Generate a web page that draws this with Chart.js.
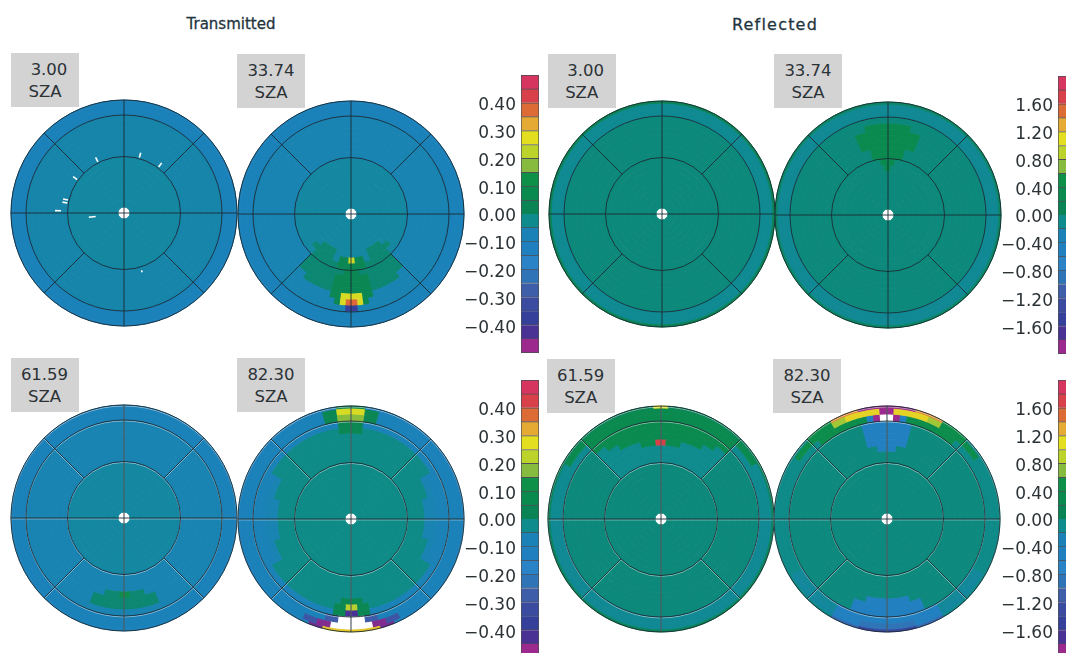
<!DOCTYPE html>
<html>
<head>
<meta charset="utf-8">
<title>Transmitted and Reflected</title>
<script src="https://cdn.jsdelivr.net/npm/chart.js@4"></script>
<style>
html, body { margin: 0; background: #fff; width: 1066px; height: 653px; overflow: hidden; }
body { position: relative; font-family: "DejaVu Sans", sans-serif; color: #2b3236; }
canvas { position: absolute; }
canvas.map { filter: blur(0.5px); }
.title { position: absolute; top: 15px; width: 200px; text-align: center; font-size: 15px; color: #1f3540; -webkit-text-stroke: 0.3px #1f3540; }
.box { position: absolute; width: 68px; height: 54px; background: #d3d3d3; text-align: center; font-size: 16.5px; line-height: 22px; padding-top: 6px; box-sizing: border-box; }
.shift { margin-left: 8px; }
</style>
</head>
<body>
<script>
// values per map: outer ring first, each ring split in equal cells clockwise from the top
// transmitted in hundredths, colour step 0.05
const t03 = [[-10],[-9],[-9],[-6],[-6],[-6],[-6],[-6],[-6],[-6],[-5],[-5],[-5],[-5],[-5],[-5],[-5],[-5]];
const t34 = [[-10],[-9],[-9],
[-7,-7,-7,-7,-7,-7,-7,-7,-7,-7,-7,-7,-7,-7,-7,-7,-7,-7,-7,-7,-7,-7,-7,-7,
 -7,-7,-7,-7,-7,-7,-7,-7,-7,-7,-7,-7,-7,-7,-7,-7,-7,-7,-7,-7,-7,-7,-7,-38,
 -38,-7,-7,-7,-7,-7,-7,-7,-7,-7,-7,-7,-7,-7,-7,-7,-7,-7,-7,-7,-7,-7,-7,-7,
 -7,-7,-7,-7,-7,-7,-7,-7,-7,-7,-7,-7,-7,-7,-7,-7,-7,-7,-7,-7,-7,-7,-7,-7],
[-7,-7,-7,-7,-7,-7,-7,-7,-7,-7,-7,-7,-7,-7,-7,-7,-7,-7,-7,-7,-7,-7,-7,-7,
 -7,-7,-7,-7,-7,-7,-7,-7,-7,-7,-7,-7,-7,-7,-7,-7,-7,-7,-7,-7,-7,5,26,38,
 38,26,5,-7,-7,-7,-7,-7,-7,-7,-7,-7,-7,-7,-7,-7,-7,-7,-7,-7,-7,-7,-7,-7,
 -7,-7,-7,-7,-7,-7,-7,-7,-7,-7,-7,-7,-7,-7,-7,-7,-7,-7,-7,-7,-7,-7,-7,-7],
[-7,-7,-7,-7,-7,-7,-7,-7,-7,-7,-7,-7, -7,-7,-7,-7,-7,-7,-7,-7,-7,-7,5,26, 26,5,-7,-7,-7,-7,-7,-7,-7,-7,-7,-7, -7,-7,-7,-7,-7,-7,-7,-7,-7,-7,-7,-7],
[-7,-7,-7,-7,-7,-7,-7,-7,-7,-7,-7,-7, -7,-7,-7,-7,-7,-7,-7,0,0,0,5,5, 5,5,0,0,0,-7,-7,-7,-7,-7,-7,-7, -7,-7,-7,-7,-7,-7,-7,-7,-7,-7,-7,-7],
[-7,-7,-7,-7,-7,-7,-7,-7,-7,-7,-7,-7, -7,-7,-7,-7,-7,-7,0,0,0,0,5,5, 5,5,0,0,0,0,-7,-7,-7,-7,-7,-7, -7,-7,-7,-7,-7,-7,-7,-7,-7,-7,-7,-7],
[-7,-7,-7,-7,-7,-7,-7,-7,-7,-7,-7,-7, -7,-7,-7,-7,-7,-7,0,0,0,0,5,5, 5,5,0,0,0,0,-7,-7,-7,-7,-7,-7, -7,-7,-7,-7,-7,-7,-7,-7,-7,-7,-7,-7],
[-7,-7,-7,-7,-7,-7,-7,-7,-7,-7,-7,-7, -7,-7,-7,-7,-7,-7,0,0,0,0,0,5, 5,0,0,0,0,0,-7,-7,-7,-7,-7,-7, -7,-7,-7,-7,-7,-7,-7,-7,-7,-7,-7,-7],
[-5,-5,-5,-5,-5,-5,-5,-5,-5,-5,-5,-5, -5,-5,-5,-5,-5,-5,0,0,0,0,5,5, 5,5,0,0,0,0,-5,-5,-5,-5,-5,-5, -5,-5,-5,-5,-5,-5,-5,-5,-5,-5,-5,-5],
[-5,-5,-5,-5,-5,-5,-5,-5,-5,-5,-5,-5,-5,-5,-5,-5,-5,-5,-5,-5,-5,-5,-5,-5,
 -5,-5,-5,-5,-5,-5,-5,-5,-5,-5,0,0,0,0,0,0,0,0,-5,-5,5,5,5,24,
 24,5,5,5,-5,-5,0,0,0,0,0,0,0,0,-5,-5,-5,-5,-5,-5,-5,-5,-5,-5,
 -5,-5,-5,-5,-5,-5,-5,-5,-5,-5,-5,-5,-5,-5,-5,-5,-5,-5,-5,-5,-5,-5,-5,-5],
[-5,-5,-5,-5,-5,-5,-5,-5,-5,-5,-5,-5, -5,-5,-5,-5,-5,-5,0,0,0,-5,-5,-5, -5,-5,-5,0,0,0,-5,-5,-5,-5,-5,-5, -5,-5,-5,-5,-5,-5,-5,-5,-5,-5,-5,-5],
[-5],[-5],[-5],[-5],[-5]];
const t62 = [[-10],[-9],[-9],[-7],
[-7,-7,-7,-7,-7,-7,-7,-7,-7,-7,-7,-7, -7,-7,-7,-7,-7,-7,-7,-7,-7,0,0,0, 0,0,0,-7,-7,-7,-7,-7,-7,-7,-7,-7, -7,-7,-7,-7,-7,-7,-7,-7,-7,-7,-7,-7],
[-7,-7,-7,-7,-7,-7,-7,-7,-7,-7,-7,-7, -7,-7,-7,-7,-7,-7,-7,-7,-7,0,0,0, 0,0,0,-7,-7,-7,-7,-7,-7,-7,-7,-7, -7,-7,-7,-7,-7,-7,-7,-7,-7,-7,-7,-7],
[-7,-7,-7,-7,-7,-7,-7,-7,-7,-7,-7,-7,-7,-7,-7,-7,-7,-7,-7,-7,-7,-7,-7,-7,
 -7,-7,-7,-7,-7,-7,-7,-7,-7,-7,-7,-7,-7,-7,-7,-7,-7,-7,-7,-7,0,0,0,11,
 11,0,0,0,-7,-7,-7,-7,-7,-7,-7,-7,-7,-7,-7,-7,-7,-7,-7,-7,-7,-7,-7,-7,
 -7,-7,-7,-7,-7,-7,-7,-7,-7,-7,-7,-7,-7,-7,-7,-7,-7,-7,-7,-7,-7,-7,-7,-7],
[-7],[-7],[-7],[-5],[-5],[-5],[-5],[-5],[-5],[-5],[-5]];
const t82 = [
[6,-11,-11,-11,-11,-11,-11,-11,-11,-11,-11,-11, -11,-11,-11,-11,-11,-11,-11,-11,-11,-45,30,30, 30,30,-45,-11,-11,-11,-11,-11,-11,-11,-11,-11, -11,-11,-11,-11,-11,-11,-11,-11,-11,-11,-11,6],
[26,26,5,5,-9,-9,-9,-9,-9,-9,-9,-9,-9,-9,-9,-9,-9,-9,-9,-9,-9,-9,-9,-9,
 -9,-9,-9,-9,-9,-9,-9,-9,-9,-9,-9,-9,-9,-9,-9,-9,-9,-30,-30,-46,-46,null,null,null,
 null,null,null,-46,-46,-30,-30,-9,-9,-9,-9,-9,-9,-9,-9,-9,-9,-9,-9,-9,-9,-9,-9,-9,
 -9,-9,-9,-9,-9,-9,-9,-9,-9,-9,-9,-9,-9,-9,-9,-9,-9,-9,-9,-9,5,5,26,26],
[18,18,5,5,-9,-9,-9,-9,-9,-9,-9,-9,-9,-9,-9,-9,-9,-9,-9,-9,-9,-9,-9,-9,
 -9,-9,-9,-9,-9,-9,-9,-9,-9,-9,-9,-9,-9,-9,-9,-9,-9,-9,-9,-9,-28,-28,null,null,
 null,null,-28,-28,-9,-9,-9,-9,-9,-9,-9,-9,-9,-9,-9,-9,-9,-9,-9,-9,-9,-9,-9,-9,
 -9,-9,-9,-9,-9,-9,-9,-9,-9,-9,-9,-9,-9,-9,-9,-9,-9,-9,-9,-9,5,5,18,18],
[5,5,-8,-8,-8,-8,-8,-8,-8,-8,-8,-8,-8,-8,-8,-8,-8,-8,-8,-8,-8,-8,-8,-8,
 -8,-8,-8,-8,-8,-8,-8,-8,-8,-8,-8,-8,-8,-8,-8,-8,-8,-8,-8,-8,-8,5,5,-42,
 -42,5,5,-8,-8,-8,-8,-8,-8,-8,-8,-8,-8,-8,-8,-8,-8,-8,-8,-8,-8,-8,-8,-8,
 -8,-8,-8,-8,-8,-8,-8,-8,-8,-8,-8,-8,-8,-8,-8,-8,-8,-8,-8,-8,-8,-8,5,5],
[5,5,-2,-2,-2,-2,-2,-2,-2,-2,-2,-2,-2,-2,-2,-2,-8,-8,-8,-8,-8,-8,-8,-8,
 -8,-8,-8,-8,-8,-8,-8,-8,-2,-2,-2,-2,-2,-2,-2,-2,-2,-2,-2,-2,-2,5,5,22,
 22,5,5,-2,-2,-2,-2,-2,-2,-2,-2,-2,-2,-2,-2,-2,-8,-8,-8,-8,-8,-8,-8,-8,
 -8,-8,-8,-8,-8,-8,-8,-8,-2,-2,-2,-2,-2,-2,-2,-2,-2,-2,-2,-2,-2,-2,5,5],
[-2,-2,-2,-2,-2,-2,-2,-2,-7,-7,-7,-7, -7,-7,-7,-7,-2,-2,-2,-2,-2,-2,-2,5, 5,-2,-2,-2,-2,-2,-2,-2,-7,-7,-7,-7, -7,-7,-7,-7,-2,-2,-2,-2,-2,-2,-2,-2],
[-2,-2,-2,-2,-2,-7,-7,-2,-2,-2,-2,-2,-2,-2,-2,-2,-2,-7,-7,-2,-2,-2,-2,-2],
[-2],[-2],[-2],[-2],[-2],[-2],[-2],[-2],[-2],[-2],[-2]];

// reflected in hundredths, colour step 0.20
const r03 = [[10],[-13],[-13],[-4],[-4],[-4],[-4],[-4],[-4],[-4],[-4],[-4],[-4],[-4],[-4],[-4],[-4],[-4]];
const r34 = [[5],[-14],[-14],[-4],
[30,30,-4,-4,-4,-4,-4,-4,-4,-4,-4,-4,-4,-4,-4,-4,-4,-4,-4,-4,-4,-4,-4,-4,-4,-4,-4,-4,-4,-4,-4,-4,-4,-4,-4,-4,-4,-4,-4,-4,-4,-4,-4,-4,-4,-4,30,30],
[30,30,30,-4,-4,-4,-4,-4,-4,-4,-4,-4,-4,-4,-4,-4,-4,-4,-4,-4,-4,-4,-4,-4,-4,-4,-4,-4,-4,-4,-4,-4,-4,-4,-4,-4,-4,-4,-4,-4,-4,-4,-4,-4,-4,30,30,30],
[30,30,30,-4,-4,-4,-4,-4,-4,-4,-4,-4,-4,-4,-4,-4,-4,-4,-4,-4,-4,-4,-4,-4,-4,-4,-4,-4,-4,-4,-4,-4,-4,-4,-4,-4,-4,-4,-4,-4,-4,-4,-4,-4,-4,30,30,30],
[30,30,30,-4,-4,-4,-4,-4,-4,-4,-4,-4,-4,-4,-4,-4,-4,-4,-4,-4,-4,-4,-4,-4,-4,-4,-4,-4,-4,-4,-4,-4,-4,-4,-4,-4,-4,-4,-4,-4,-4,-4,-4,-4,-4,30,30,30],
[30,30,-4,-4,-4,-4,-4,-4,-4,-4,-4,-4,-4,-4,-4,-4,-4,-4,-4,-4,-4,-4,-4,-4,-4,-4,-4,-4,-4,-4,-4,-4,-4,-4,-4,-4,-4,-4,-4,-4,-4,-4,-4,-4,-4,-4,30,30],
[30,30,-4,-4,-4,-4,-4,-4,-4,-4,-4,-4,-4,-4,-4,-4,-4,-4,-4,-4,-4,-4,-4,-4,-4,-4,-4,-4,-4,-4,-4,-4,-4,-4,-4,-4,-4,-4,-4,-4,-4,-4,-4,-4,-4,-4,30,30],
[30,-4,-4,-4,-4,-4,-4,-4,-4,-4,-4,-4,-4,-4,-4,-4,-4,-4,-4,-4,-4,-4,-4,-4,-4,-4,-4,-4,-4,-4,-4,-4,-4,-4,-4,-4,-4,-4,-4,-4,-4,-4,-4,-4,-4,-4,-4,30],
[30,-4,-4,-4,-4,-4,-4,-4,-4,-4,-4,-4,-4,-4,-4,-4,-4,-4,-4,-4,-4,-4,-4,-4,-4,-4,-4,-4,-4,-4,-4,-4,-4,-4,-4,-4,-4,-4,-4,-4,-4,-4,-4,-4,-4,-4,-4,-4,
 -4,-4,-4,-4,-4,-4,-4,-4,-4,-4,-4,-4,-4,-4,-4,-4,-4,-4,-4,-4,-4,-4,-4,-4,-4,-4,-4,-4,-4,-4,-4,-4,-4,-4,-4,-4,-4,-4,-4,-4,-4,-4,-4,-4,-4,-4,-4,30],
[-4],[-4],[-4],[-4],[-4],[-4]];
const r62 = [
[110,8,8,8,8,8,8,8,8,8,8,8,8,8,8,8,8,8,8,8,8,8,8,8,
 8,8,8,8,8,8,8,8,8,8,8,8,8,8,8,8,8,8,8,8,8,8,8,8,
 8,8,8,8,8,8,8,8,8,8,8,8,8,8,8,8,8,8,8,8,8,8,8,8,
 8,8,8,8,8,8,8,8,8,8,8,8,8,8,8,8,8,8,8,8,8,8,8,110],
[30,30,30,30,30,30,30,30,-12,-12,-12,-12, -14,-14,-14,-14,-14,-14,-14,-14,-14,-14,-14,-14, -14,-14,-14,-14,-14,-14,-14,-14,-14,-14,-14,-14, -12,-12,-12,-12,30,30,30,30,30,30,30,30],
[30,30,30,30,30,30,-12,-12,-12,-12,-12,-12, -14,-14,-14,-14,-14,-14,-14,-14,-14,-14,-14,-14, -14,-14,-14,-14,-14,-14,-14,-14,-14,-14,-14,-14, -12,-12,-12,-12,-12,-12,30,30,30,30,30,30],
[30,30,30,30,30,30,-4,-4,-4,-4,-4,-4,-4,-4,-4,-4,-4,-4,-4,-4,-4,-4,-4,-4,-4,-4,-4,-4,-4,-4,-4,-4,-4,-4,-4,-4,-4,-4,-4,-4,-4,-4,30,30,30,30,30,30],
[30,30,30,30,30,-10,-4,-4,-4,-4,-4,-4,-4,-4,-4,-4,-4,-4,-4,-4,-4,-4,-4,-4,-4,-4,-4,-4,-4,-4,-4,-4,-4,-4,-4,-4,-4,-4,-4,-4,-4,-4,-10,30,30,30,30,30],
[30,30,30,30,-10,-10,-4,-4,-4,-4,-4,-4,-4,-4,-4,-4,-4,-4,-4,-4,-4,-4,-4,-4,-4,-4,-4,-4,-4,-4,-4,-4,-4,-4,-4,-4,-4,-4,-4,-4,-4,-4,-10,-10,30,30,30,30],
[170,30,30,30,-11,-11,-11,-11,-11,-11,-11,-11,-4,-4,-4,-4,-4,-4,-4,-4,-4,-4,-4,-4,
 -4,-4,-4,-4,-4,-4,-4,-4,-4,-4,-4,-4,-4,-4,-4,-4,-4,-4,-4,-4,-4,-4,-4,-4,
 -4,-4,-4,-4,-4,-4,-4,-4,-4,-4,-4,-4,-4,-4,-4,-4,-4,-4,-4,-4,-4,-4,-4,-4,
 -4,-4,-4,-4,-4,-4,-4,-4,-4,-4,-4,-4,-11,-11,-11,-11,-11,-11,-11,-11,30,30,30,170],
[-11,-11,-11,-4,-4,-4,-4,-4,-4,-4,-4,-4,-4,-4,-4,-4,-4,-4,-4,-4,-4,-11,-11,-11],
[-11,-11,-11,-4,-4,-4,-4,-4,-4,-4,-4,-4,-4,-4,-4,-4,-4,-4,-4,-4,-4,-11,-11,-11],
[-11,-11,-11,-4,-4,-4,-4,-4,-4,-4,-4,-4,-4,-4,-4,-4,-4,-4,-4,-4,-4,-11,-11,-11],
[-4],[-4],[-4],[-4],[-4],[-4],[-4],[-4]];
const r82 = [
[-190,-190,140,140,50,50,-8,-8,-8,-8,-8,-8, -8,-8,-8,-8,-8,-8,-8,-8,-100,-100,-140,-140, -140,-140,-100,-100,-8,-8,-8,-8,-8,-8,-8,-8, -8,-8,-8,-8,-8,-8,50,50,140,140,-190,-190],
[-190,115,115,115,115,115,80,80,40,40,40,40,40,40,40,-9,-9,-9,-9,-9,-9,-9,-9,-9,
 -9,-9,-9,-9,-9,-9,-9,-9,-18,-18,-18,-18,-18,-18,-18,-18,-55,-55,-55,-55,-90,-90,-90,-90,
 -90,-90,-90,-90,-55,-55,-55,-55,-18,-18,-18,-18,-18,-18,-18,-18,-9,-9,-9,-9,-9,-9,-9,-9,
 -9,-9,-9,-9,-9,-9,-9,-9,-9,40,40,40,40,40,40,40,80,80,115,115,115,115,115,-190],
[null,-190,-55,40,40,40,40,40,40,40,40,-9,-9,-9,-9,-9,-9,-9,-9,-9,-9,-9,-9,-9,
 -9,-9,-9,-9,-9,-9,-9,-9,-16,-16,-16,-16,-16,-16,-16,-16,-55,-55,-55,-55,-55,-55,-55,-55,
 -55,-55,-55,-55,-55,-55,-55,-55,-16,-16,-16,-16,-16,-16,-16,-16,-9,-9,-9,-9,-9,-9,-9,-9,
 -9,-9,-9,-9,-9,-9,-9,-9,-9,-9,-9,-9,-9,40,40,40,40,40,40,40,40,-55,-190,null],
[-55,-55,-5,-5,-5,-5,-5,-5,-5,-5,-5,-5, -5,-5,-5,-5,-5,-5,-5,-5,-5,-55,-55,-55, -55,-55,-55,-5,-5,-5,-5,-5,-5,-5,-5,-5, -5,-5,-5,-5,-5,-5,-5,-5,-5,-5,-55,-55],
[-55,-55,-5,-5,-5,-5,-5,-5,-5,-5,-5,-5, -5,-5,-5,-5,-5,-5,-5,-5,-5,-55,-55,-55, -55,-55,-55,-5,-5,-5,-5,-5,-5,-5,-5,-5, -5,-5,-5,-5,-5,-5,-5,-5,-5,-5,-55,-55],
[-55,-55,-5,-5,-5,-5,-5,-5,-5,-5,-5,-5, -5,-5,-5,-5,-5,-5,-5,-5,-5,-5,-55,-55, -55,-55,-5,-5,-5,-5,-5,-5,-5,-5,-5,-5, -5,-5,-5,-5,-5,-5,-5,-5,-5,-5,-55,-55],
[-55,-55,-5,-5,-5,-5,-5,-5,-5,-5,-5,-5, -5,-5,-5,-5,-5,-5,-5,-5,-5,-5,-5,-5, -5,-5,-5,-5,-5,-5,-5,-5,-5,-5,-5,-5, -5,-5,-5,-5,-5,-5,-5,-5,-5,-5,-55,-55],
[-55,-5,-5,-5,-5,-5,-5,-5,-5,-5,-5,-5, -5,-5,-5,-5,-5,-5,-5,-5,-5,-5,-5,-5, -5,-5,-5,-5,-5,-5,-5,-5,-5,-5,-5,-5, -5,-5,-5,-5,-5,-5,-5,-5,-5,-5,-5,-55],
[-5],[-5],[-5],[-5],[-5],[-5],[-5],[-5],[-5],[-5]];

const mapValues = [t03, t34, t62, t82, r03, r34, r62, r82];
const szaLabels = ["3.00", "33.74", "61.59", "82.30", "3.00", "33.74", "61.59", "82.30"];

// missing samples in the 3.00 transmitted map
const dropoutAz = [-27, 15.5, 37, -54.5, -77, -80, -88, -97, 163];
const dropoutR = [60, 60, 60, 60, 60, 60, 66, 32, 61];
const dropoutLen = [5, 5, 5, 5, 5, 5, 6, 7, 2];

// colour bar, bottom to top
const levelColors = ["#9c2a8e","#4a3194","#35409a","#3b4b9f","#3f5ea9","#2f74b6","#2a83c6","#1f7fbf","#1a82b6","#0e8b8c",
  "#0a8355","#0b8a50","#0f9048","#86bb3f","#bcd32c","#e3df20","#e5aa33","#dd6b35","#d9414a","#d5355f"];
const transmittedEdges = [-0.5,-0.45,-0.4,-0.35,-0.3,-0.25,-0.2,-0.15,-0.1,-0.05,0,0.05,0.1,0.15,0.2,0.25,0.3,0.35,0.4,0.45,0.5];
const reflectedEdges = [-2,-1.8,-1.6,-1.4,-1.2,-1,-0.8,-0.6,-0.4,-0.2,0,0.2,0.4,0.6,0.8,1,1.2,1.4,1.6,1.8,2];

// layout
const ringEdges = [113,111,105,98,92,86,80,74,68,62,56,50,44,38,32,26,20,14,6];
const gridRings = [56.5, 98, 113];
const diskX = [124.3, 351, 124, 351, 661.7, 887.7, 661, 887.3];
const diskY = [213.3, 214, 518.3, 519, 214.3, 215, 519.3, 519.3];
const boxX = [11, 237, 10.5, 237, 547.7, 774, 546.7, 773];
const boxY = [53, 54, 358, 358, 54, 54, 359, 359];
const barX = [520.5, 1057.5, 520.5, 1057.5];
const barY = [75, 75.5, 379.5, 380];

function colorFor(v, step) {
  if (v === null) return "#ffffff";
  let p = v / step + 9.5;
  p = Math.max(0, Math.min(19, p));
  const lo = Math.floor(p), hi = Math.ceil(p), t = p - lo;
  const a = parseInt(levelColors[lo].slice(1), 16), b = parseInt(levelColors[hi].slice(1), 16);
  const mix = s => Math.round(((a >> s) & 255) * (1 - t) + ((b >> s) & 255) * t);
  return `rgb(${mix(16)},${mix(8)},${mix(0)})`;
}

const polarGrid = {
  id: "polarGrid",
  afterDatasetsDraw(chart, args, opts) {
    const first = chart.getDatasetMeta(0).data[0];
    const ctx = chart.ctx, x = first.x, y = first.y, R = gridRings[2];
    const d = Math.SQRT1_2;
    const trace = () => {
      ctx.beginPath();
      gridRings.forEach(r => { ctx.moveTo(x + r, y); ctx.arc(x, y, r, 0, Math.PI * 2); });
      ctx.moveTo(x, y - R); ctx.lineTo(x, y + R);
      ctx.moveTo(x - R, y); ctx.lineTo(x + R, y);
      [[1,1],[1,-1],[-1,1],[-1,-1]].forEach(s => {
        ctx.moveTo(x + s[0] * d * gridRings[0], y + s[1] * d * gridRings[0]);
        ctx.lineTo(x + s[0] * d * R, y + s[1] * d * R);
      });
      ctx.stroke();
    };
    ctx.save();
    if (opts.halo) {
      // the lower maps have a pale edge beside each line
      ctx.save();
      ctx.translate(0, 0.9);
      ctx.strokeStyle = "rgba(255,255,255,0.55)";
      ctx.lineWidth = 0.9;
      trace();
      ctx.restore();
    }
    ctx.strokeStyle = "#1b2b33";
    ctx.lineWidth = 0.9;
    trace();
    if (opts.dropouts) {
      ctx.strokeStyle = "#ffffff";
      ctx.lineWidth = 1.6;
      dropoutAz.forEach((az, i) => {
        const a = az * Math.PI / 180, r = dropoutR[i], h = dropoutLen[i] / 2;
        ctx.beginPath();
        ctx.moveTo(x + Math.sin(a) * (r - h), y - Math.cos(a) * (r - h));
        ctx.lineTo(x + Math.sin(a) * (r + h), y - Math.cos(a) * (r + h));
        ctx.stroke();
      });
    }
    ctx.restore();
  }
};

function addCanvas(left, top, w, h) {
  const c = document.createElement("canvas");
  c.width = w;
  c.height = h;
  c.style.left = left + "px";
  c.style.top = top + "px";
  document.body.appendChild(c);
  return c;
}

mapValues.forEach((rings, i) => {
  const step = i < 4 ? 5 : 20;
  const canvas = addCanvas(diskX[i] - 120, diskY[i] - 120, 240, 240);
  canvas.className = "map";
  new Chart(canvas, {
    type: "doughnut",
    data: {
      datasets: rings.map((ring, k) => {
        const colors = ring.map(v => colorFor(v, step));
        return {
          data: ring.map(() => 1),
          weight: ringEdges[k] - ringEdges[k + 1],
          backgroundColor: colors,
          borderColor: colors,
          borderWidth: 1
        };
      })
    },
    options: {
      responsive: false,
      animation: false,
      radius: ringEdges[0],
      cutout: (100 * ringEdges[ringEdges.length - 1] / ringEdges[0]) + "%",
      layout: { padding: 0 },
      events: [],
      plugins: {
        legend: { display: false },
        tooltip: { enabled: false },
        polarGrid: { halo: diskY[i] > 400, dropouts: i === 0 }
      }
    },
    plugins: [polarGrid]
  });

  const box = document.createElement("div");
  box.className = "box";
  box.style.left = boxX[i] + "px";
  box.style.top = boxY[i] + "px";
  box.innerHTML = `<span class="${szaLabels[i] === "3.00" ? "shift" : ""}">${szaLabels[i]}</span><br>SZA`;
  document.body.appendChild(box);
});

barX.forEach((x, i) => {
  const edges = i % 2 === 0 ? transmittedEdges : reflectedEdges;
  const canvas = addCanvas(x - 70, barY[i] - 4, 92, 286);
  new Chart(canvas, {
    type: "bar",
    data: {
      labels: [""],
      datasets: levelColors.map((color, k) => ({
        data: [[edges[k], edges[k + 1]]],
        backgroundColor: color,
        borderColor: "#4c4f55",
        borderWidth: 1,
        barPercentage: 1,
        categoryPercentage: 1
      }))
    },
    options: {
      responsive: false,
      animation: false,
      layout: { padding: { top: 4, bottom: 4, right: 4 } },
      events: [],
      plugins: { legend: { display: false }, tooltip: { enabled: false } },
      scales: {
        x: { display: false, stacked: true },
        y: {
          min: edges[0],
          max: edges[20],
          afterFit: s => { s.width = 70; s.paddingTop = 0; s.paddingBottom = 0; },
          border: { display: false },
          grid: { display: false, drawTicks: false },
          ticks: {
            stepSize: i % 2 === 0 ? 0.1 : 0.4,
            padding: 5,
            labelOffset: 3,
            color: "#2b3236",
            font: { family: "DejaVu Sans", size: 17 },
            callback: v => Math.abs(Math.abs(v) - edges[20]) < 1e-6 ? null : (Math.abs(v) < 1e-6 ? "0.00" : v.toFixed(2).replace("-", "\u2212"))
          }
        }
      }
    }
  });
});

["Transmitted", "Reflected"].forEach((t, i) => {
  const d = document.createElement("div");
  d.className = "title";
  d.textContent = t;
  d.style.left = (i === 0 ? 131 : 675) + "px";
  if (i === 1) {
    d.style.fontSize = "16px";
    d.style.letterSpacing = "1.2px";
  }
  document.body.appendChild(d);
});
</script>
</body>
</html>
